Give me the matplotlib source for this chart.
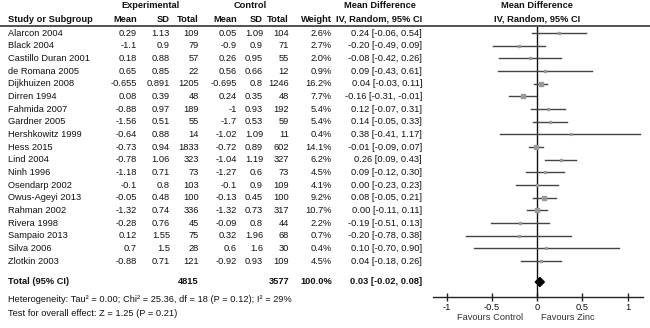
import numpy as np
import matplotlib
matplotlib.use('Agg')
import matplotlib.pyplot as plt

plt.rcParams['font.family'] = ['Liberation Sans', 'DejaVu Sans']

studies = ["Alarcon 2004", "Black 2004", "Castillo Duran 2001", "de Romana 2005",
           "Dijkhuizen 2008", "Dirren 1994", "Fahmida 2007", "Gardner 2005",
           "Hershkowitz 1999", "Hess 2015", "Lind 2004", "Ninh 1996",
           "Osendarp 2002", "Owus-Ageyi 2013", "Rahman 2002", "Rivera 1998",
           "Sampaio 2013", "Silva 2006", "Zlotkin 2003"]
exp_mean = ["0.29", "-1.1", "0.18", "0.65", "-0.655", "0.08", "-0.88", "-1.56", "-0.64", "-0.73",
            "-0.78", "-1.18", "-0.1", "-0.05", "-1.32", "-0.28", "0.12", "0.7", "-0.88"]
exp_sd = ["1.13", "0.9", "0.88", "0.85", "0.891", "0.39", "0.97", "0.51", "0.88", "0.94",
          "1.06", "0.71", "0.8", "0.48", "0.74", "0.76", "1.55", "1.5", "0.71"]
exp_n = [109, 79, 57, 22, 1205, 48, 189, 55, 14, 1833, 323, 73, 103, 100, 336, 45, 75, 28, 121]
ctl_mean = ["0.05", "-0.9", "0.26", "0.56", "-0.695", "0.24", "-1", "-1.7", "-1.02", "-0.72",
            "-1.04", "-1.27", "-0.1", "-0.13", "-1.32", "-0.09", "0.32", "0.6", "-0.92"]
ctl_sd = ["1.09", "0.9", "0.95", "0.66", "0.8", "0.35", "0.93", "0.53", "1.09", "0.89",
          "1.19", "0.6", "0.9", "0.45", "0.73", "0.8", "1.96", "1.6", "0.93"]
ctl_n = [104, 71, 55, 12, 1246, 48, 192, 59, 11, 602, 327, 73, 109, 100, 317, 44, 68, 30, 109]
weight = [2.6, 2.7, 2.0, 0.9, 16.2, 7.7, 5.4, 5.4, 0.4, 14.1, 6.2, 4.5, 4.1, 9.2, 10.7, 2.2, 0.7, 0.4, 4.5]
md = [0.24, -0.20, -0.08, 0.09, 0.04, -0.16, 0.12, 0.14, 0.38, -0.01, 0.26, 0.09, 0.00, 0.08,
      0.00, -0.19, -0.20, 0.10, 0.04]
lo = [-0.06, -0.49, -0.42, -0.43, -0.03, -0.31, -0.07, -0.05, -0.41, -0.09, 0.09, -0.12, -0.23,
      -0.05, -0.11, -0.51, -0.78, -0.70, -0.18]
hi = [0.54, 0.09, 0.26, 0.61, 0.11, -0.01, 0.31, 0.33, 1.17, 0.07, 0.43, 0.30, 0.23, 0.21,
      0.11, 0.13, 0.38, 0.90, 0.26]
total_exp = 4815
total_ctl = 3577
total_md, total_lo, total_hi = 0.03, -0.02, 0.08
xticks = [-1, -0.5, 0, 0.5, 1]
xlim = (-1.15, 1.17)

W, H = 650, 328
fig = plt.figure(figsize=(W / 100, H / 100), dpi=100)

# background axes in pixel units for the table text
tab = fig.add_axes([0, 0, 1, 1])
tab.set_xlim(0, W)
tab.set_ylim(H, 0)
tab.axis('off')

fs = 6.7
tc = '#111111'
row0, dy = 33, 12.67
rows = [row0 + dy * i for i in range(len(studies))]
y_total = 282

# column right edges
cols = [137, 170, 199, 237, 263, 289, 332, 422]

def t(x, y, s, ha='right', bold=False):
    tab.text(x, y, s, ha=ha, va='center', fontsize=fs, color=tc,
             fontweight='bold' if bold else 'normal')

# headers
t(150, 6, "Experimental", ha='center', bold=True)
t(250, 6, "Control", ha='center', bold=True)
t(380, 6, "Mean Difference", ha='center', bold=True)
t(537, 6, "Mean Difference", ha='center', bold=True)
t(8, 19, "Study or Subgroup", ha='left', bold=True)
for x, s in zip(cols[:7], ["Mean", "SD", "Total", "Mean", "SD", "Total", "Weight"]):
    t(x, 19, s, bold=True)
t(cols[7], 19, "IV, Random, 95% CI", bold=True)
t(537, 19, "IV, Random, 95% CI", ha='center', bold=True)
tab.plot([0, W], [25.5, 25.5], color='#222222', lw=1.1)

for i, y in enumerate(rows):
    t(8, y, studies[i], ha='left')
    vals = [exp_mean[i], exp_sd[i], str(exp_n[i]), ctl_mean[i], ctl_sd[i], str(ctl_n[i]),
            f"{weight[i]:.1f}%", f"{md[i]:.2f} [{lo[i]:.2f}, {hi[i]:.2f}]"]
    for x, s in zip(cols, vals):
        t(x, y, s)

t(8, y_total, "Total (95% CI)", ha='left', bold=True)
t(cols[2], y_total, str(total_exp), bold=True)
t(cols[5], y_total, str(total_ctl), bold=True)
t(cols[6], y_total, "100.0%", bold=True)
t(cols[7], y_total, f"{total_md:.2f} [{total_lo:.2f}, {total_hi:.2f}]", bold=True)
t(8, 300, "Heterogeneity: Tau\u00b2 = 0.00; Chi\u00b2 = 25.36, df = 18 (P = 0.12); I\u00b2 = 29%", ha='left')
t(8, 313, "Test for overall effect: Z = 1.25 (P = 0.21)", ha='left')

# forest axes
x0, x1, ytop, ybot = 433, 643, 27, 297
ax = fig.add_axes([x0 / W, 1 - ybot / H, (x1 - x0) / W, (ybot - ytop) / H])
ax.set_xlim(*xlim)
ax.set_ylim(ybot, ytop)
ax.patch.set_alpha(0)
for s in ['left', 'right', 'top']:
    ax.spines[s].set_visible(False)
ax.spines['bottom'].set_color('#222222')
ax.spines['bottom'].set_linewidth(1.0)
ax.set_yticks([])
ax.set_xticks(xticks)
ax.set_xticklabels(["-1", "-0.5", "0", "0.5", "1"])
ax.tick_params(axis='x', direction='inout', length=6, width=1, color='#222222',
               labelsize=fs, labelcolor=tc, pad=1)

ax.axvline(0, color='#111111', lw=1.0)
for i, y in enumerate(rows):
    right = min(hi[i], xlim[1] - 0.03)
    ax.plot([lo[i], right], [y, y], color='#444444', lw=1.0)
    if hi[i] > xlim[1]:
        ax.annotate('', xy=(xlim[1] - 0.01, y), xytext=(right - 0.05, y),
                    arrowprops=dict(arrowstyle='-|>', color='#111111', lw=0.8,
                                    mutation_scale=6))
    ms = 1.0 + np.sqrt(weight[i]) * 0.45
    ax.plot(md[i], y, 's', ms=ms, color='#999999', mec='#999999')

ax.fill([total_lo, total_md, total_hi, total_md],
        [y_total, y_total - 4.5, y_total, y_total + 4.5], color='black')

tab.text(523, 318, "Favours Control", ha='right', va='center', fontsize=fs, color='#333333')
tab.text(541, 318, "Favours Zinc", ha='left', va='center', fontsize=fs, color='#333333')

fig.savefig("out.png", dpi=100)
